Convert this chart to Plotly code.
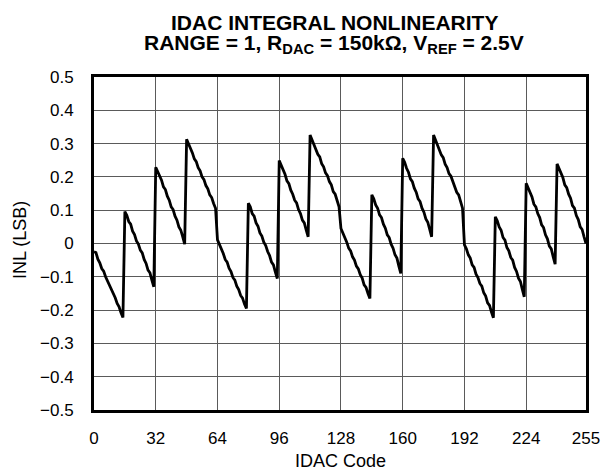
import plotly.graph_objects as go

# INL (LSB) per IDAC code, 16 codes per group
seg00 = [-0.025, -0.027, -0.047, -0.058, -0.075, -0.083, -0.100, -0.112, -0.128, -0.136, -0.152, -0.163, -0.180, -0.190, -0.208, -0.222]
seg01 = [0.096, 0.085, 0.066, 0.058, 0.037, 0.027, 0.008, -0.002, -0.020, -0.028, -0.048, -0.060, -0.080, -0.088, -0.110, -0.130]
seg02 = [0.229, 0.216, 0.200, 0.190, 0.170, 0.162, 0.142, 0.130, 0.110, 0.102, 0.082, 0.070, 0.050, 0.040, 0.020, -0.002]
seg03 = [0.313, 0.300, 0.282, 0.272, 0.254, 0.246, 0.228, 0.218, 0.200, 0.192, 0.174, 0.164, 0.146, 0.138, 0.120, 0.106]
seg04 = [0.011, -0.002, -0.020, -0.030, -0.048, -0.056, -0.074, -0.084, -0.102, -0.110, -0.128, -0.138, -0.156, -0.164, -0.182, -0.195]
seg05 = [0.121, 0.110, 0.090, 0.082, 0.062, 0.052, 0.032, 0.022, 0.004, -0.006, -0.024, -0.036, -0.056, -0.064, -0.086, -0.105]
seg06 = [0.249, 0.236, 0.218, 0.208, 0.188, 0.180, 0.160, 0.148, 0.130, 0.122, 0.102, 0.090, 0.070, 0.062, 0.040, 0.020]
seg07 = [0.326, 0.312, 0.296, 0.286, 0.268, 0.260, 0.240, 0.230, 0.212, 0.204, 0.186, 0.176, 0.156, 0.148, 0.128, 0.110]
seg08 = [0.045, 0.032, 0.014, 0.004, -0.014, -0.022, -0.040, -0.050, -0.068, -0.076, -0.094, -0.104, -0.124, -0.132, -0.150, -0.165]
seg09 = [0.146, 0.134, 0.116, 0.106, 0.086, 0.078, 0.058, 0.046, 0.026, 0.018, -0.002, -0.014, -0.034, -0.044, -0.068, -0.090]
seg10 = [0.256, 0.244, 0.226, 0.214, 0.194, 0.186, 0.166, 0.154, 0.134, 0.126, 0.106, 0.094, 0.074, 0.064, 0.042, 0.020]
seg11 = [0.326, 0.312, 0.296, 0.284, 0.266, 0.258, 0.238, 0.228, 0.210, 0.202, 0.184, 0.172, 0.154, 0.146, 0.126, 0.106]
seg12 = [-0.004, -0.016, -0.034, -0.044, -0.064, -0.072, -0.092, -0.102, -0.120, -0.128, -0.148, -0.158, -0.178, -0.186, -0.206, -0.223]
seg13 = [0.080, 0.068, 0.050, 0.040, 0.018, 0.010, -0.012, -0.022, -0.042, -0.050, -0.072, -0.084, -0.104, -0.114, -0.138, -0.160]
seg14 = [0.181, 0.168, 0.150, 0.140, 0.118, 0.110, 0.090, 0.078, 0.056, 0.048, 0.026, 0.014, -0.008, -0.016, -0.040, -0.062]
seg15 = [0.239, 0.226, 0.208, 0.198, 0.176, 0.168, 0.148, 0.136, 0.114, 0.106, 0.084, 0.072, 0.050, 0.042, 0.020, 0.000]

inl = (seg00 + seg01 + seg02 + seg03 + seg04 + seg05 + seg06 + seg07 +
       seg08 + seg09 + seg10 + seg11 + seg12 + seg13 + seg14 + seg15)
codes = list(range(len(inl)))

x_tickvals = [0, 32, 64, 96, 128, 160, 192, 224, 255]
x_ticktext = ["0", "32", "64", "96", "128", "160", "192", "224", "255"]
y_tickvals = [-0.5, -0.4, -0.3, -0.2, -0.1, 0, 0.1, 0.2, 0.3, 0.4, 0.5]
y_ticktext = ["\u22120.5", "\u22120.4", "\u22120.3", "\u22120.2", "\u22120.1", "0",
              "0.1", "0.2", "0.3", "0.4", "0.5"]

title_line1 = "<b>IDAC INTEGRAL NONLINEARITY</b>"
title_line2 = "<b>RANGE = 1, R<sub>DAC</sub> = 150k\u03a9, V<sub>REF</sub> = 2.5V</b>"
x_title = "IDAC Code"
y_title = "INL (LSB)"

FONT = "Liberation Sans, Arial, sans-serif"
W, H = 604, 473
L, R, T, B = 94, 18, 77, 63
PW, PH = W - L - R, H - T - B

def px_x(px):
    return (px - L) / PW

def px_y(py):
    return (H - B - py) / PH

fig = go.Figure()
fig.add_trace(go.Scatter(x=codes, y=inl, mode="lines",
                         line=dict(color="black", width=2.8),
                         hoverinfo="skip", showlegend=False))

fig.update_layout(
    width=W, height=H,
    margin=dict(l=L, r=R, t=T, b=B, autoexpand=False),
    paper_bgcolor="white", plot_bgcolor="white",
    font=dict(family=FONT, size=17, color="black"),
    xaxis=dict(range=[0, 255], tickvals=x_tickvals, ticktext=x_ticktext,
               showgrid=True, gridcolor="#5a5a5a", gridwidth=1,
               showline=True, linecolor="black", linewidth=3, mirror=True,
               ticks="", ticklabelstandoff=11, zeroline=False,
               tickfont=dict(size=17)),
    yaxis=dict(range=[-0.5, 0.5], tickvals=y_tickvals, ticktext=y_ticktext,
               showgrid=True, gridcolor="#5a5a5a", gridwidth=1,
               showline=True, linecolor="black", linewidth=3, mirror=True,
               ticks="", ticklabelstandoff=14, zeroline=False,
               tickfont=dict(size=17)),
    annotations=[
        dict(text=title_line1, xref="paper", yref="paper", x=px_x(334), y=px_y(22),
             xanchor="center", yanchor="middle", showarrow=False,
             font=dict(size=21, family=FONT, color="black")),
        dict(text=title_line2, xref="paper", yref="paper", x=px_x(334), y=px_y(44),
             xanchor="center", yanchor="middle", showarrow=False,
             font=dict(size=21, family=FONT, color="black")),
        dict(text=x_title, xref="paper", yref="paper", x=px_x(340), y=px_y(461),
             xanchor="center", yanchor="middle", showarrow=False,
             font=dict(size=18, family=FONT, color="black")),
        dict(text=y_title, xref="paper", yref="paper", x=px_x(20), y=px_y(240),
             xanchor="center", yanchor="middle", showarrow=False, textangle=-90,
             font=dict(size=18, family=FONT, color="black")),
    ],
)

fig.write_html("out.html", config={"displayModeBar": False},
               post_script="document.body.style.margin='0px';")
